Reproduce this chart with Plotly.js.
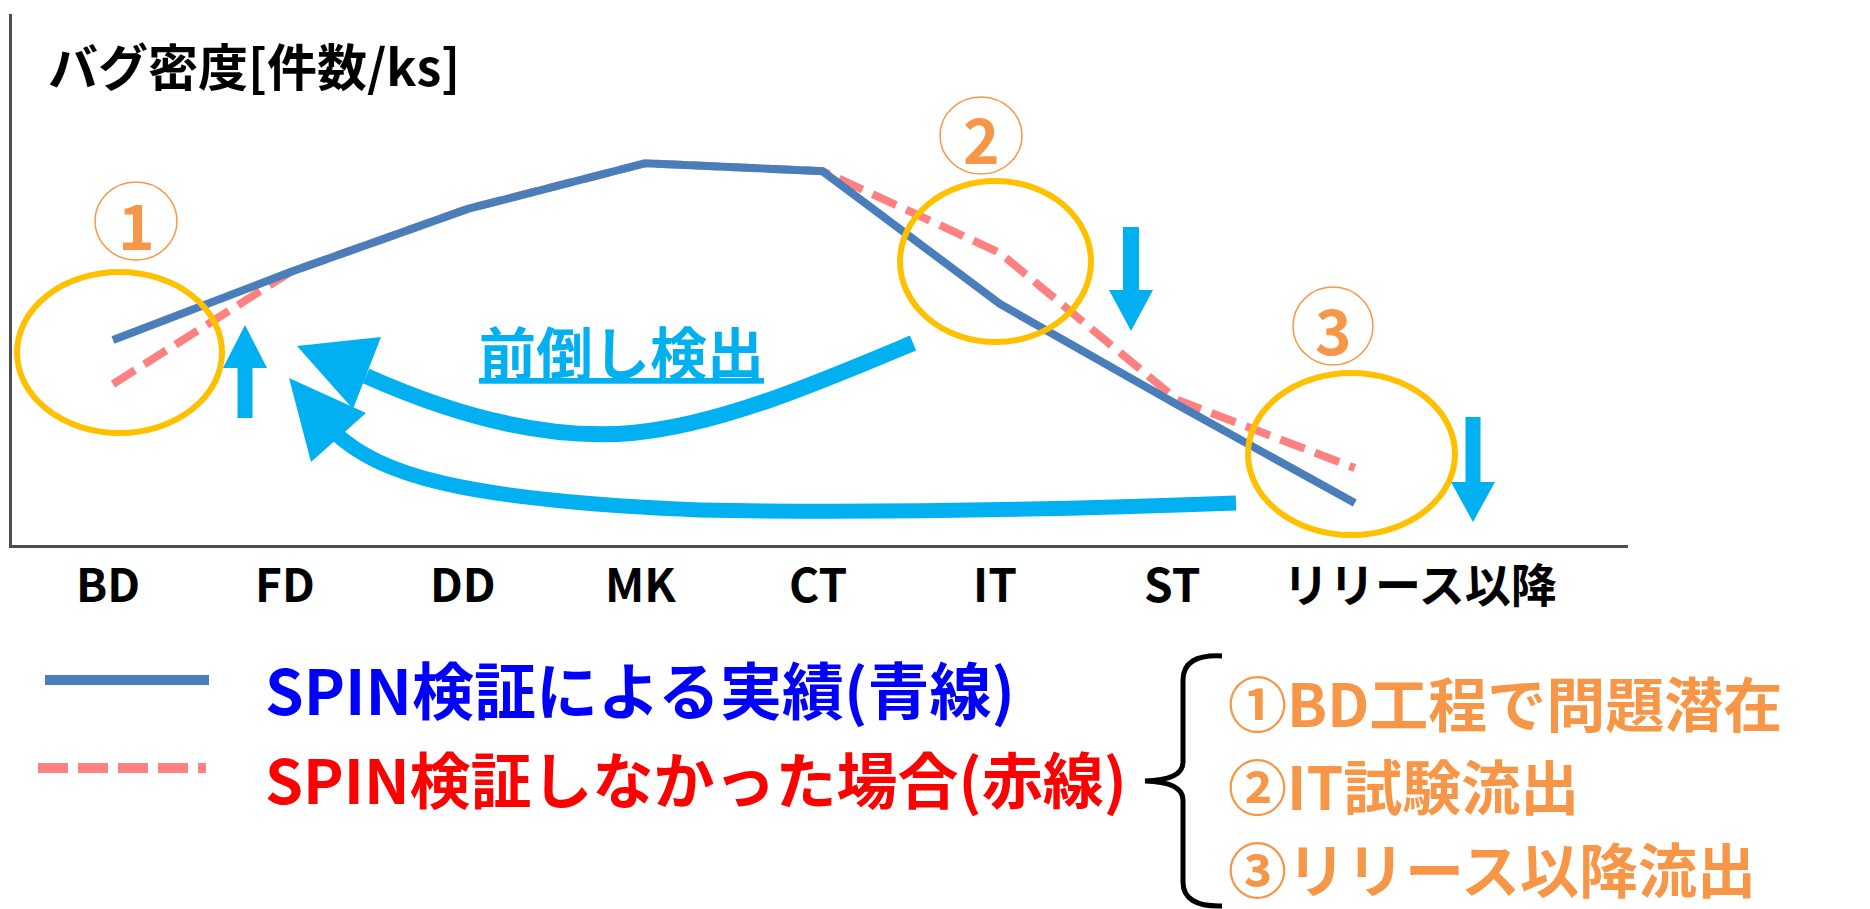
<!DOCTYPE html>
<html>
<head>
<meta charset="utf-8">
<script src="https://cdn.plot.ly/plotly-3.0.1.min.js"></script>
<style>html,body{margin:0;padding:0;background:#fff;}#chart{width:1870px;height:909px;}</style>
</head>
<body>
<div id="chart"></div>
<script>
// ---- data ----
const categories = ['BD', 'FD', 'DD', 'MK', 'CT', 'IT', 'ST', 'リリース以降'];
const spinActual = [38.6, 51.4, 63.3, 71.9, 70.4, 45.4, 26.4, 7.9];      // SPIN検証による実績(青線)
const withoutSpin = [30.3, 51.4, 63.3, 71.9, 70.4, 55.0, 27.3, 14.5];    // SPIN検証しなかった場合(赤線)
const yTitle = 'バグ密度[件数/ks]';
const seriesNames = ['SPIN検証による実績(青線)', 'SPIN検証しなかった場合(赤線)'];
const noteLines = ['①BD工程で問題潜在', '②IT試験流出', '③リリース以降流出'];
const arrowLabel = '前倒し検出';
const marks = ['1', '2', '3'];

// ---- layout helpers (pixel -> paper) ----
const W = 1870, H = 909;
const X = px => px / W;
const Y = py => 1 - py / H;
const P = cmds => cmds.map(c => typeof c === 'string' ? c : X(c[0]).toFixed(5) + ',' + Y(c[1]).toFixed(5)).join(' ');
const FONT = "'Noto Sans CJK JP', 'Noto Sans', sans-serif";
const BLUE = '#4A7EBB', RED = '#FF8080', CYAN = '#00B0F0', YEL = '#FFC000', ORG = '#F79646';

const traces = [
  {x: categories, y: withoutSpin, type: 'scatter', mode: 'lines', name: seriesNames[1],
   line: {color: RED, width: 8, dash: '26px,11px'}, hoverinfo: 'skip'},
  {x: categories, y: spinActual, type: 'scatter', mode: 'lines', name: seriesNames[0],
   line: {color: BLUE, width: 8}, hoverinfo: 'skip'}
];

const shapes = [];
const annotations = [];

// ellipses (highlight circles)
[[17, 272, 222, 433], [900, 181, 1091, 342], [1248, 373, 1455, 535]].forEach(e => {
  shapes.push({type: 'circle', xref: 'paper', yref: 'paper', x0: X(e[0]), x1: X(e[2]), y0: Y(e[3]), y1: Y(e[1]),
    line: {color: YEL, width: 6}, layer: 'above'});
});
// circled numbers
[[95, 182, 177, 260], [940, 97, 1022, 174], [1293, 287, 1373, 365]].forEach((e, i) => {
  shapes.push({type: 'circle', xref: 'paper', yref: 'paper', x0: X(e[0]), x1: X(e[2]), y0: Y(e[3]), y1: Y(e[1]),
    line: {color: ORG, width: 1.5}, layer: 'above'});
  annotations.push({xref: 'paper', yref: 'paper', x: X((e[0] + e[2]) / 2), y: Y((e[1] + e[3]) / 2 + 2),
    xanchor: 'center', yanchor: 'middle', showarrow: false, text: '<b>' + marks[i] + '</b>',
    font: {family: FONT, size: 62, color: ORG}});
});
// straight arrows
function vArrow(cx, shaftEnd, headBase, tip, hw, sw) {
  return P(['M', [cx - sw, shaftEnd], 'L', [cx - sw, headBase], 'L', [cx - hw, headBase], 'L', [cx, tip],
    'L', [cx + hw, headBase], 'L', [cx + sw, headBase], 'L', [cx + sw, shaftEnd], 'Z']);
}
[vArrow(245, 418, 368, 325, 22, 7.5), vArrow(1131, 227, 290, 331, 22, 8), vArrow(1473, 417, 482, 522, 22, 7.5)].forEach(p => {
  shapes.push({type: 'path', xref: 'paper', yref: 'paper', path: p, fillcolor: CYAN, line: {width: 0}, layer: 'above'});
});
// curved arrows
shapes.push({type: 'path', xref: 'paper', yref: 'paper', layer: 'above', line: {color: CYAN, width: 16},
  path: P(['M', [366, 376], 'C', [460, 418], [550, 440], [632, 433], 'C', [720, 425], [820, 382], [913, 343]])});
shapes.push({type: 'path', xref: 'paper', yref: 'paper', layer: 'above', fillcolor: CYAN, line: {width: 0},
  path: P(['M', [297, 346], 'L', [381, 337], 'L', [353, 409], 'Z'])});
shapes.push({type: 'path', xref: 'paper', yref: 'paper', layer: 'above', line: {color: CYAN, width: 15},
  path: P(['M', [334, 432], 'C', [380, 475], [460, 500], [700, 510], 'C', [900, 514], [1100, 508], [1236, 503]])});
shapes.push({type: 'path', xref: 'paper', yref: 'paper', layer: 'above', fillcolor: CYAN, line: {width: 0},
  path: P(['M', [289, 378], 'L', [366, 413], 'L', [311, 462], 'Z'])});

// legend samples
shapes.push({type: 'line', xref: 'paper', yref: 'paper', x0: X(45), x1: X(209), y0: Y(680), y1: Y(680),
  line: {color: BLUE, width: 10}});
shapes.push({type: 'line', xref: 'paper', yref: 'paper', x0: X(38), x1: X(206), y0: Y(768), y1: Y(768),
  line: {color: RED, width: 10, dash: '30px,10px'}});
// bracket
shapes.push({type: 'path', xref: 'paper', yref: 'paper', line: {color: '#000000', width: 5},
  path: P(['M', [1222, 656], 'Q', [1183, 654], [1183, 680], 'L', [1183, 762], 'Q', [1183, 780], [1145, 781],
    'Q', [1183, 782], [1183, 800], 'L', [1183, 882], 'Q', [1183, 907], [1222, 906]])});

// title
annotations.push({xref: 'paper', yref: 'paper', x: X(46), y: Y(64), xanchor: 'left', yanchor: 'middle', showarrow: false,
  text: '<b>' + yTitle + '</b>', font: {family: FONT, size: 50, color: '#000'}});
// category labels
categories.forEach((c, i) => {
  annotations.push({xref: 'x', yref: 'paper', x: i, y: Y(582), xanchor: 'center', yanchor: 'middle', showarrow: false,
    xshift: i === categories.length - 1 ? 65 : -5,
    text: '<b>' + c + '</b>', font: {family: FONT, size: 46, color: '#000'}});
});
// arrow label
annotations.push({xref: 'paper', yref: 'paper', x: X(621), y: Y(350), xanchor: 'center', yanchor: 'middle', showarrow: false,
  text: '<b><u>' + arrowLabel + '</u></b>', font: {family: FONT, size: 57, color: CYAN}});
// legend texts
annotations.push({xref: 'paper', yref: 'paper', x: X(263), y: Y(688), xanchor: 'left', yanchor: 'middle', showarrow: false,
  text: '<b>' + seriesNames[0] + '</b>', font: {family: FONT, size: 62, color: '#0000FF'}});
annotations.push({xref: 'paper', yref: 'paper', x: X(263), y: Y(777), xanchor: 'left', yanchor: 'middle', showarrow: false,
  text: '<b>' + seriesNames[1] + '</b>', font: {family: FONT, size: 61, color: '#FF0000'}});
// notes
[701, 784, 867].forEach((yy, i) => {
  annotations.push({xref: 'paper', yref: 'paper', x: X(1226), y: Y(yy), xanchor: 'left', yanchor: 'middle', showarrow: false,
    text: '<b>' + noteLines[i] + '</b>', font: {family: FONT, size: 59, color: ORG}});
});

const layout = {
  width: W, height: H,
  margin: {l: 0, r: 0, t: 0, b: 0},
  paper_bgcolor: '#ffffff', plot_bgcolor: '#ffffff',
  showlegend: false,
  xaxis: {type: 'category', domain: [12 / W, 1628 / W], range: [-0.569, 8.54], showline: true, linecolor: '#4d4d4d',
    linewidth: 3, showgrid: false, zeroline: false, showticklabels: false, ticks: ''},
  yaxis: {domain: [1 - 545 / H, 1 - 14 / H], range: [0, 100], showline: true, linecolor: '#4d4d4d', linewidth: 3,
    showgrid: false, zeroline: false, showticklabels: false, ticks: ''},
  shapes: shapes,
  annotations: annotations
};

Plotly.newPlot('chart', traces, layout, {staticPlot: true, displayModeBar: false});
</script>
</body>
</html>
